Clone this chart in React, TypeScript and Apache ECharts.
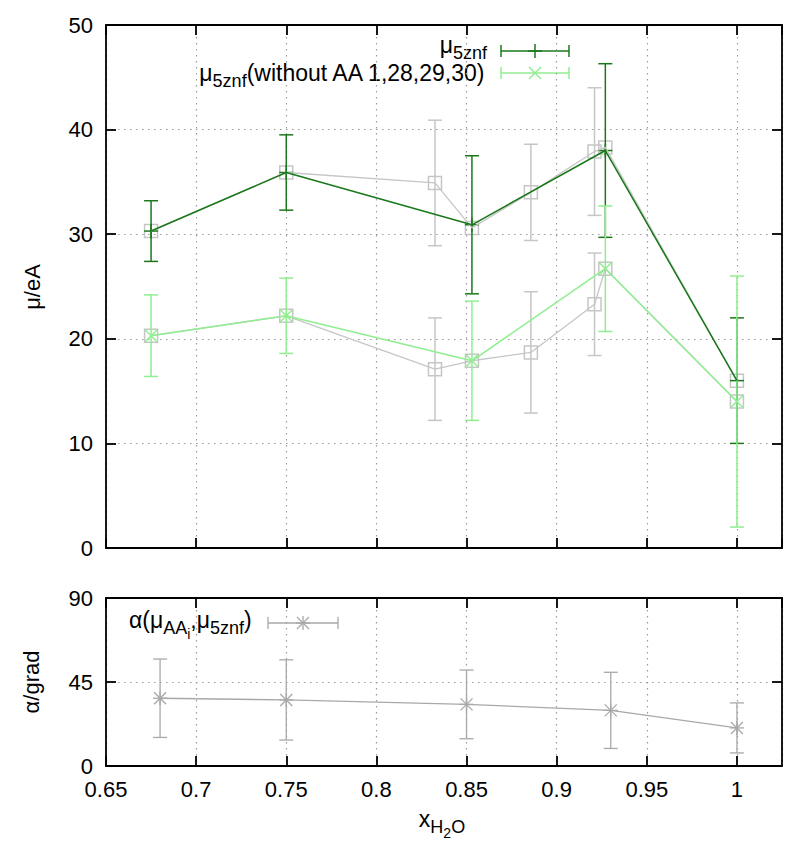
import React, { useEffect, useRef } from 'react';
import * as echarts from 'echarts';

// ---------- data ----------
// upper panel: mu_5znf (dark green)
const greenX = [0.675, 0.75, 0.853, 0.927, 1.0];
const greenY = [30.3, 35.9, 30.9, 38.0, 16.0];
const greenErr = [2.9, 3.6, 6.6, 8.3, 6.0];
// upper panel: mu_5znf without AA 1,28,29,30 (light green)
const lightX = [0.675, 0.75, 0.853, 0.927, 1.0];
const lightY = [20.3, 22.2, 17.9, 26.7, 14.0];
const lightErr = [3.9, 3.6, 5.7, 6.0, 12.0];
// upper panel: grey squares (all compositions)
const greyX = [0.675, 0.75, 0.8325, 0.853, 0.8857, 0.921, 0.927, 1.0];
const greyUpY = [30.3, 35.9, 34.9, 30.6, 34.0, 37.9, 38.3, 16.0];
const greyUpErr = [null, null, 6.0, null, 4.6, 6.1, null, null];
const greyLowY = [20.3, 22.2, 17.1, 17.9, 18.7, 23.3, 26.7, 14.0];
const greyLowErr = [null, null, 4.9, null, 5.8, 4.9, null, null];
// lower panel: alpha angle
const alphaX = [0.68, 0.75, 0.85, 0.93, 1.0];
const alphaY = [36.3, 35.4, 33.0, 29.8, 20.4];
const alphaErr = [21.0, 21.5, 18.4, 20.4, 13.4];

// axis ranges
const xRange = [0.65, 1.025];
const xStep = 0.05;
const yTopRange = [0, 50];
const yTopStep = 10;
const yBotRange = [0, 90];
const yBotStep = 45;

// text pieces: [text, level] (0 normal, 1 subscript, 2 sub-subscript)
const legendTop1: [string, number][] = [['μ', 0], ['5znf', 1]];
const legendTop2: [string, number][] = [['μ', 0], ['5znf', 1], ['(without AA 1,28,29,30)', 0]];
const legendBot: [string, number][] = [['α(μ', 0], ['AA', 1], ['i', 2], [',μ', 0], ['5znf', 1], [')', 0]];
const xTitle: [string, number][] = [['x', 0], ['H', 1], ['2', 2], ['O', 1]];

// ---------- styles ----------
const FONT = "'Liberation Sans', Arial, Helvetica, sans-serif";
const FS = 22;
const LEVEL_SIZE = [23, 18, 14];
const LEVEL_DY = [0, 8, 13.5];
const LEVEL_LH = [18, 10, 8];
const DARK = '#1a781a';
const LIGHT = '#90ee90';
const GREY = '#c6c6c6';
const AGREY = '#a8a8a8';
const GRIDC = '#9a9a9a';

let measureCtx: CanvasRenderingContext2D | null = null;
function textWidth(t: string, size: number) {
  if (!measureCtx) measureCtx = document.createElement('canvas').getContext('2d');
  if (!measureCtx) return t.length * size * 0.55;
  measureCtx.font = `${size}px ${FONT}`;
  return measureCtx.measureText(t).width;
}

function subText(x: number, y: number, parts: [string, number][], align: string) {
  const widths = parts.map(([t, l]) => textWidth(t, LEVEL_SIZE[l]));
  const total = widths.reduce((a, b) => a + b, 0);
  let cx = align === 'left' ? x : align === 'right' ? x - total : x - total / 2;
  const out: any[] = [];
  parts.forEach(([t, l], i) => {
    out.push({
      type: 'text',
      x: cx,
      y: y + LEVEL_DY[l],
      silent: true,
      style: {
        text: t,
        fill: '#000',
        fontSize: LEVEL_SIZE[l],
        fontFamily: FONT,
        lineHeight: LEVEL_LH[l],
        align: 'left',
        verticalAlign: 'middle',
      },
    });
    cx += widths[i];
  });
  return out;
}

function markerChildren(marker: string, cx: number, cy: number, st: any) {
  const out: any[] = [];
  const h = 7;
  const d = 6;
  if (marker === 'plus' || marker === 'star') {
    out.push({ type: 'line', shape: { x1: cx - h, y1: cy, x2: cx + h, y2: cy }, style: st });
    out.push({ type: 'line', shape: { x1: cx, y1: cy - h, x2: cx, y2: cy + h }, style: st });
  }
  if (marker === 'cross' || marker === 'star') {
    out.push({ type: 'line', shape: { x1: cx - d, y1: cy - d, x2: cx + d, y2: cy + d }, style: st });
    out.push({ type: 'line', shape: { x1: cx - d, y1: cy + d, x2: cx + d, y2: cy - d }, style: st });
  }
  if (marker === 'square') {
    out.push({ type: 'rect', shape: { x: cx - 6.5, y: cy - 6.5, width: 13, height: 13 }, style: { ...st, fill: null } });
  }
  return out;
}

function errSeries(xs: number[], ys: number[], es: (number | null)[], color: string, marker: string, gi: number, lw: number) {
  const data = xs.map((x, i) => [x, ys[i], es[i] == null ? 0 : es[i]]);
  return {
    type: 'custom',
    xAxisIndex: gi * 2,
    yAxisIndex: gi * 2,
    data,
    silent: true,
    encode: { x: 0, y: 1 },
    renderItem: (params: any, api: any) => {
      const x = api.value(0);
      const y = api.value(1);
      const e = api.value(2);
      const c = api.coord([x, y]);
      const st = { stroke: color, lineWidth: lw, fill: null };
      const ch: any[] = [];
      if (e > 0) {
        const t = api.coord([x, y + e]);
        const b = api.coord([x, y - e]);
        const cap = 7;
        ch.push({ type: 'line', shape: { x1: c[0], y1: t[1], x2: c[0], y2: b[1] }, style: st });
        ch.push({ type: 'line', shape: { x1: c[0] - cap, y1: t[1], x2: c[0] + cap, y2: t[1] }, style: st });
        ch.push({ type: 'line', shape: { x1: c[0] - cap, y1: b[1], x2: c[0] + cap, y2: b[1] }, style: st });
      }
      ch.push(...markerChildren(marker, c[0], c[1], st));
      return { type: 'group', children: ch };
    },
  };
}

function lineSeries(xs: number[], ys: number[], color: string, gi: number, lw: number) {
  return {
    type: 'line',
    xAxisIndex: gi * 2,
    yAxisIndex: gi * 2,
    data: xs.map((x, i) => [x, ys[i]]),
    showSymbol: false,
    symbol: 'none',
    silent: true,
    lineStyle: { color, width: lw },
  };
}

const axisLineStyle = { color: '#000', width: 1.8 };

function xAxes(gi: number, labels: boolean) {
  const base = {
    gridIndex: gi,
    type: 'value',
    min: xRange[0],
    max: xRange[1],
    interval: xStep,
    axisLine: { show: true, onZero: false, lineStyle: axisLineStyle },
    axisTick: { show: true, inside: true, length: 10, lineStyle: axisLineStyle },
  };
  return [
    {
      ...base,
      position: 'bottom',
      axisLabel: {
        show: labels,
        showMaxLabel: false,
        color: '#000',
        fontSize: FS,
        fontFamily: FONT,
        margin: 12,
      },
      splitLine: { show: true, lineStyle: { color: GRIDC, width: 1.2, type: [1.5, 4.5] } },
    },
    {
      ...base,
      position: 'top',
      axisLabel: { show: false },
      splitLine: { show: false },
    },
  ];
}

function yAxes(gi: number, range: number[], step: number) {
  const base = {
    gridIndex: gi,
    type: 'value',
    min: range[0],
    max: range[1],
    interval: step,
    axisLine: { show: true, onZero: false, lineStyle: axisLineStyle },
    axisTick: { show: true, inside: true, length: 10, lineStyle: axisLineStyle },
  };
  return [
    {
      ...base,
      position: 'left',
      axisLabel: { show: true, color: '#000', fontSize: FS, fontFamily: FONT, margin: 13 },
      splitLine: { show: true, lineStyle: { color: GRIDC, width: 1.2, type: [1.5, 4.5] } },
    },
    {
      ...base,
      position: 'right',
      axisLabel: { show: false },
      splitLine: { show: false },
    },
  ];
}

function legendSample(x1: number, x2: number, y: number, color: string, marker: string, lw: number) {
  const st = { stroke: color, lineWidth: lw, fill: null };
  const cap = 6;
  return [
    { type: 'line', shape: { x1, y1: y, x2, y2: y }, style: st, silent: true },
    { type: 'line', shape: { x1, y1: y - cap, x2: x1, y2: y + cap }, style: st, silent: true },
    { type: 'line', shape: { x1: x2, y1: y - cap, x2, y2: y + cap }, style: st, silent: true },
    ...markerChildren(marker, (x1 + x2) / 2, y, st).map((c) => ({ ...c, silent: true })),
  ];
}

export default function App() {
  const ref = useRef<HTMLDivElement>(null);
  useEffect(() => {
    document.body.style.margin = '0';
    if (!ref.current) return;
    const chart = echarts.init(ref.current, undefined, { renderer: 'svg' });
    const option: any = {
      animation: false,
      backgroundColor: '#fff',
      grid: [
        { left: 106, top: 25, width: 676, height: 523 },
        { left: 106, top: 598, width: 676, height: 168 },
      ],
      xAxis: [...xAxes(0, false), ...xAxes(1, true)],
      yAxis: [...yAxes(0, yTopRange, yTopStep), ...yAxes(1, yBotRange, yBotStep)],
      series: [
        lineSeries(greyX, greyUpY, GREY, 0, 1.3),
        lineSeries(greyX, greyLowY, GREY, 0, 1.3),
        errSeries(greyX, greyUpY, greyUpErr, GREY, 'square', 0, 1.5),
        errSeries(greyX, greyLowY, greyLowErr, GREY, 'square', 0, 1.5),
        lineSeries(greenX, greenY, DARK, 0, 1.5),
        errSeries(greenX, greenY, greenErr, DARK, 'plus', 0, 1.5),
        lineSeries(lightX, lightY, LIGHT, 0, 1.5),
        errSeries(lightX, lightY, lightErr, LIGHT, 'cross', 0, 1.5),
        lineSeries(alphaX, alphaY, AGREY, 1, 1.3),
        errSeries(alphaX, alphaY, alphaErr, AGREY, 'star', 1, 1.3),
      ],
      graphic: [
        {
          type: 'text', x: 32, y: 287, rotation: Math.PI / 2, silent: true,
          style: { text: 'μ/eA', fill: '#000', fontSize: FS, fontFamily: FONT, align: 'center', verticalAlign: 'middle' },
        },
        {
          type: 'text', x: 31, y: 682, rotation: Math.PI / 2, silent: true,
          style: { text: 'α/grad', fill: '#000', fontSize: FS, fontFamily: FONT, align: 'center', verticalAlign: 'middle' },
        },
        ...subText(442, 819, xTitle, 'center'),
        ...subText(487, 45, legendTop1, 'right'),
        ...subText(487, 73, legendTop2, 'right'),
        ...legendSample(501, 569, 51, DARK, 'plus', 1.5),
        ...legendSample(501, 569, 73, LIGHT, 'cross', 1.5),
        ...subText(129, 620, legendBot, 'left'),
        ...legendSample(268, 338, 623, AGREY, 'star', 1.3),
      ],
    };
    chart.setOption(option);
    return () => chart.dispose();
  }, []);
  return <div ref={ref} style={{ width: 800, height: 856 }} />;
}
